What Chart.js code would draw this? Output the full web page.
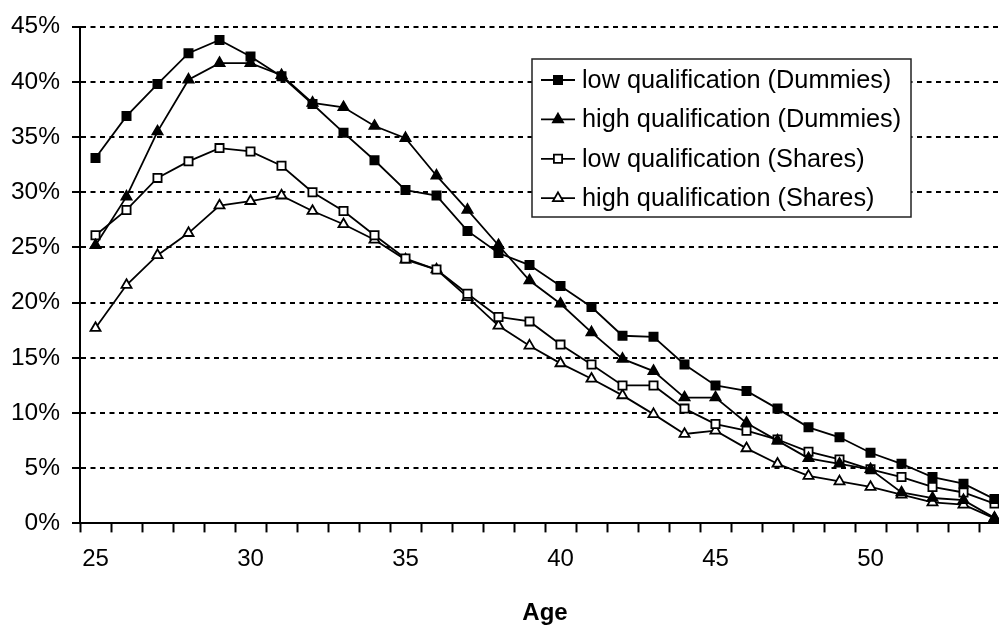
<!DOCTYPE html>
<html>
<head>
<meta charset="utf-8">
<script src="https://cdn.jsdelivr.net/npm/chart.js@4.4.1/dist/chart.umd.min.js"></script>
<style>
  html, body { margin: 0; padding: 0; background: #fff; overflow: hidden; }
  body { width: 999px; height: 628px; }
</style>
</head>
<body>
<canvas id="ageChart" width="1030" height="628"></canvas>
<script>
const ages = [25, 26, 27, 28, 29, 30, 31, 32, 33, 34, 35, 36, 37, 38, 39,
              40, 41, 42, 43, 44, 45, 46, 47, 48, 49, 50, 51, 52, 53, 54];

const lowDummies = [33.1, 36.9, 39.8, 42.6, 43.8, 42.3, 40.5, 38.0, 35.4, 32.9,
                    30.2, 29.7, 26.5, 24.5, 23.4, 21.5, 19.6, 17.0, 16.9, 14.4,
                    12.5, 12.0, 10.4, 8.7, 7.8, 6.4, 5.4, 4.2, 3.6, 2.2];
const highDummies = [25.2, 29.6, 35.5, 40.2, 41.7, 41.7, 40.6, 38.1, 37.7, 36.0,
                     34.9, 31.5, 28.4, 25.2, 22.0, 19.9, 17.3, 14.9, 13.8, 11.4,
                     11.4, 9.1, 7.5, 5.9, 5.4, 4.9, 2.8, 2.3, 2.1, 0.5];
const lowShares = [26.1, 28.4, 31.3, 32.8, 34.0, 33.7, 32.4, 30.0, 28.3, 26.1,
                   24.0, 23.0, 20.8, 18.7, 18.3, 16.2, 14.4, 12.5, 12.5, 10.4,
                   9.0, 8.4, 7.6, 6.5, 5.8, 4.9, 4.2, 3.3, 2.8, 1.8];
const highShares = [17.7, 21.6, 24.3, 26.3, 28.8, 29.2, 29.7, 28.3, 27.1, 25.7,
                    23.9, 23.0, 20.5, 17.9, 16.1, 14.5, 13.1, 11.6, 9.9, 8.1,
                    8.4, 6.8, 5.4, 4.3, 3.8, 3.3, 2.6, 1.9, 1.7, 0.45];

const seriesNames = [
    "low qualification (Dummies)",
    "high qualification (Dummies)",
    "low qualification (Shares)",
    "high qualification (Shares)"
];
const labelEvery = 5;
const yMax = 45;
const yStep = 5;

const FONT = "'Liberation Sans', Arial, sans-serif";

function series(label, data, shape, filled) {
    return {
        label: label,
        data: data,
        borderColor: "#000",
        borderWidth: 1.8,
        pointStyle: shape,
        pointRadius: 5.8,
        pointBackgroundColor: filled ? "#000" : "#fff",
        pointBorderColor: "#000",
        pointBorderWidth: 1.8,
        tension: 0,
        fill: false
    };
}

// legend drawn inside the plot, like the original box
const boxLegend = {
    id: "boxLegend",
    afterDraw(chart) {
        const ctx = chart.ctx;
        const left = 532, top = 59, right = 911, bottom = 217;
        ctx.save();
        ctx.fillStyle = "#fff";
        ctx.fillRect(left, top, right - left, bottom - top);
        ctx.strokeStyle = "#222";
        ctx.lineWidth = 1.5;
        ctx.strokeRect(left, top, right - left, bottom - top);

        chart.data.datasets.forEach((ds, i) => {
            const y = 80 + i * 39.4;
            ctx.strokeStyle = "#000";
            ctx.lineWidth = 1.8;
            ctx.beginPath();
            ctx.moveTo(541, y);
            ctx.lineTo(575, y);
            ctx.stroke();

            const cx = 558;
            ctx.fillStyle = ds.pointBackgroundColor;
            ctx.beginPath();
            if (ds.pointStyle === "rect") {
                const s = ds.pointRadius * Math.SQRT1_2;
                ctx.rect(cx - s, y - s, 2 * s, 2 * s);
            } else {
                const r = ds.pointRadius;
                ctx.moveTo(cx, y - r);
                ctx.lineTo(cx + r * 0.866, y + r * 0.5);
                ctx.lineTo(cx - r * 0.866, y + r * 0.5);
                ctx.closePath();
            }
            ctx.fill();
            ctx.stroke();

            ctx.fillStyle = "#000";
            ctx.font = "25.3px " + FONT;
            ctx.textAlign = "left";
            ctx.textBaseline = "middle";
            ctx.fillText(ds.label, 582, y + 1);
        });
        ctx.restore();
    }
};

new Chart(document.getElementById("ageChart"), {
    type: "line",
    data: {
        labels: ages,
        datasets: [
            series(seriesNames[0], lowDummies, "rect", true),
            series(seriesNames[1], highDummies, "triangle", true),
            series(seriesNames[2], lowShares, "rect", false),
            series(seriesNames[3], highShares, "triangle", false)
        ]
    },
    options: {
        responsive: false,
        animation: false,
        layout: { padding: { left: 0, top: 21, right: 20, bottom: 0 } },
        plugins: {
            legend: { display: false },
            tooltip: { enabled: false }
        },
        scales: {
            x: {
                type: "category",
                offset: true,
                grid: {
                    offset: true,
                    drawOnChartArea: false,
                    drawTicks: true,
                    tickLength: 9,
                    tickWidth: 2,
                    tickColor: "#000"
                },
                border: { display: true, color: "#000", width: 2 },
                ticks: {
                    autoSkip: false,
                    maxRotation: 0,
                    padding: 13,
                    color: "#000",
                    font: { family: FONT, size: 24 },
                    callback: function (val, idx) {
                        const a = ages[idx];
                        return (a - ages[0]) % labelEvery === 0 ? String(a) : "";
                    }
                },
                title: {
                    display: true,
                    text: "Age",
                    color: "#000",
                    font: { family: FONT, size: 24, weight: "bold" },
                    padding: { top: 12, bottom: 0 }
                }
            },
            y: {
                min: 0,
                max: yMax,
                afterFit: scale => { scale.width = 80; },
                grid: {
                    color: "#000",
                    lineWidth: 2,
                    tickLength: 8,
                    tickWidth: 2,
                    tickColor: "#000",
                    tickBorderDash: []
                },
                border: { display: true, color: "#000", width: 2, dash: [5, 4.5] },
                ticks: {
                    stepSize: yStep,
                    padding: 12,
                    color: "#000",
                    font: { family: FONT, size: 24.5 },
                    callback: v => v + "%"
                }
            }
        }
    },
    plugins: [boxLegend]
});
</script>
</body>
</html>
